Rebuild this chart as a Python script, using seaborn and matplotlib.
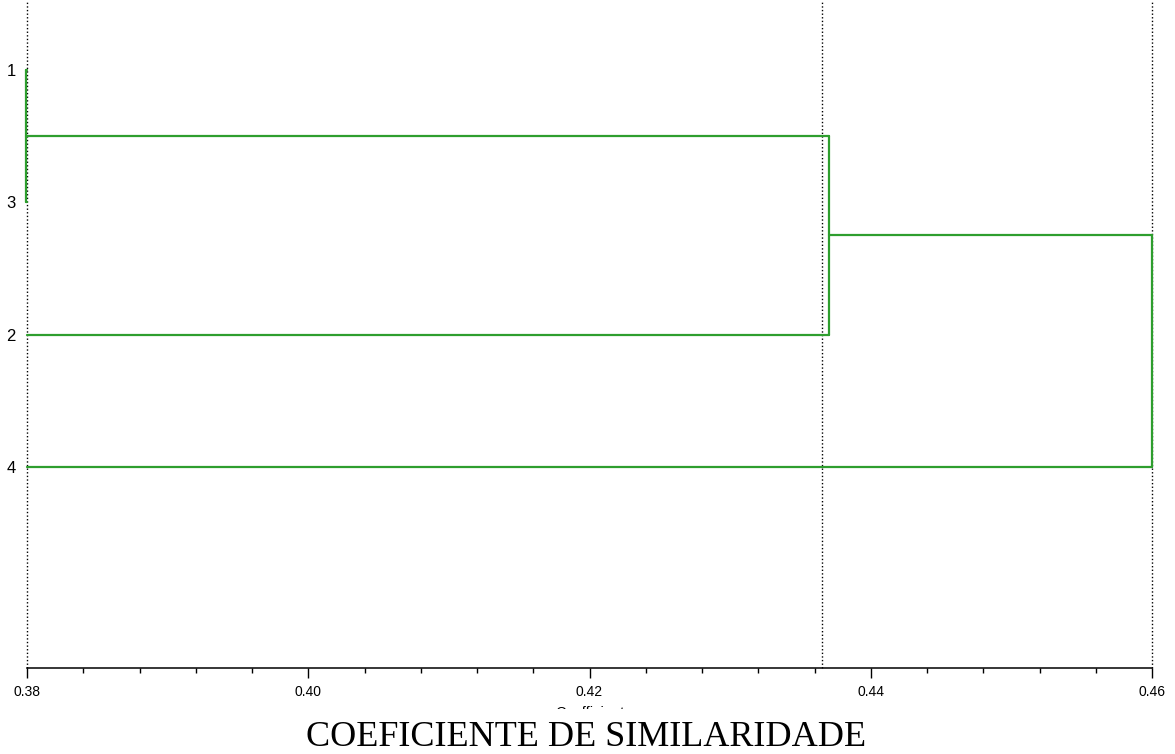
import matplotlib
matplotlib.use("Agg")
import matplotlib.pyplot as plt
import seaborn as sns
import pandas as pd
from matplotlib.ticker import MultipleLocator
from matplotlib.patches import Rectangle

# ---- data ----
leaves = ["1", "3", "2", "4"]            # leaf order top to bottom
base_value = 0.38                        # where leaf lines start
# merges: (left cluster, right cluster, coefficient); clusters >= 4 are earlier merges
merges = [(0, 1, 0.3799), (4, 2, 0.4370), (5, 3, 0.4600)]
ref_lines = [0.38, 0.4365, 0.46]
x_ticks_major = [0.38, 0.40, 0.42, 0.44, 0.46]
x_tick_labels = ["0.38", "0.40", "0.42", "0.44", "0.46"]

# ---- build dendrogram segments from merges ----
pos = {i: float(i) for i in range(len(leaves))}
height = {i: base_value for i in range(len(leaves))}
rows = []
seg = 0
for k, (a, b, h) in enumerate(merges):
    nid = len(leaves) + k
    for c in (a, b):
        rows += [dict(seg=seg, x=height[c], y=pos[c]), dict(seg=seg, x=h, y=pos[c])]
        seg += 1
    rows += [dict(seg=seg, x=h, y=pos[a]), dict(seg=seg, x=h, y=pos[b])]
    seg += 1
    pos[nid] = (pos[a] + pos[b]) / 2
    height[nid] = h
df = pd.DataFrame(rows)

sns.set_theme(style="white")
plt.rcParams['font.family'] = ['Liberation Sans', 'DejaVu Sans']
plt.rcParams['text.color'] = 'black'
plt.rcParams['xtick.color'] = 'black'
plt.rcParams['ytick.color'] = 'black'
plt.rcParams['axes.labelcolor'] = 'black'

W, H = 1175, 754
fig = plt.figure(figsize=(W / 100, H / 100), dpi=100)
ax = fig.add_axes([27 / W, (H - 668) / H, (1152 - 27) / W, 668 / H])

for xv in ref_lines:
    ax.axvline(xv, color="black", lw=1.0, ls=(0, (1, 1.6)), zorder=1)

sns.lineplot(data=df, x="x", y="y", units="seg", estimator=None, sort=False,
             color="#2E9E2E", lw=1.6, ax=ax, legend=False, zorder=3)
for l in ax.lines:
    l.set_clip_on(False)

ax.set_xlim(0.38, 0.46)
ax.set_ylim(4.52, -0.53)
ax.set_yticks(range(len(leaves)))
ax.set_yticklabels(leaves, fontsize=12)
ax.set_xticks(x_ticks_major)
ax.set_xticklabels(x_tick_labels, fontsize=10)
ax.xaxis.set_minor_locator(MultipleLocator(0.004))
ax.tick_params(axis="x", which="major", direction="out", length=7, width=1.0,
               color="black", pad=5, bottom=True)
ax.tick_params(axis="x", which="minor", direction="out", length=3.6, width=1.0,
               color="black", bottom=True)
ax.tick_params(axis="y", length=0, pad=8)
for s in ["top", "right", "left"]:
    ax.spines[s].set_visible(False)
ax.spines["bottom"].set_color("black")
ax.spines["bottom"].set_linewidth(1.1)
ax.set_ylabel("")
ax.set_xlabel("Coefficient", fontsize=10.5, labelpad=5.5)

# white band that clips the axis title, then the overlay caption
fig.patches.append(Rectangle((0, 0), 1, (H - 709) / H, transform=fig.transFigure,
                             facecolor="white", edgecolor="none", zorder=5))
fig.text(586 / W, (H - 738) / H, "COEFICIENTE DE SIMILARIDADE",
         family=["Liberation Serif", "DejaVu Serif"], fontsize=26,
         ha="center", va="center", zorder=6)

fig.savefig("out.png", dpi=100)
